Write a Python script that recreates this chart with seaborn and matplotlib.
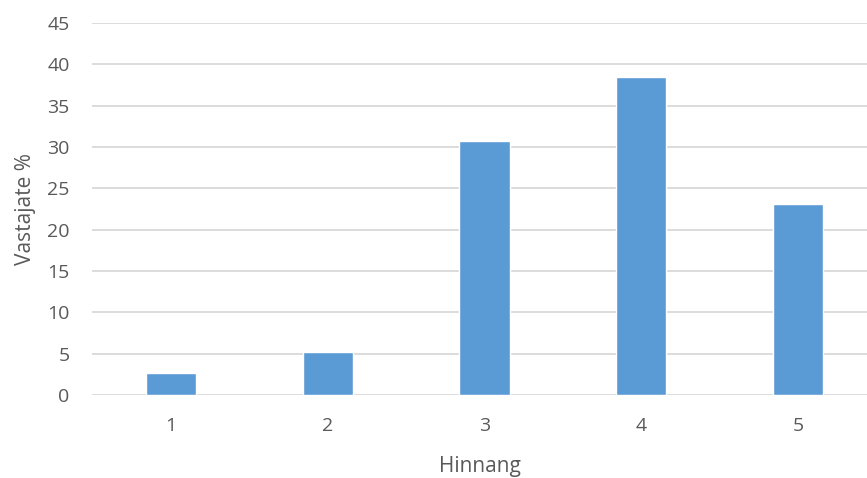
import matplotlib
matplotlib.use("Agg")
import matplotlib.pyplot as plt
import pandas as pd
import seaborn as sns

CATEGORIES = ["1", "2", "3", "4", "5"]
PERCENTS = [2.64, 5.13, 30.77, 38.46, 23.08]
Y_TICKS = [0, 5, 10, 15, 20, 25, 30, 35, 40, 45]

BAR_COLOR = "#5B9BD5"
GRID_COLOR = "#D9D9D9"
TEXT_COLOR = "#595959"


def main() -> None:
    sns.set_theme(style="white")
    plt.rcParams["font.family"] = ["Open Sans", "DejaVu Sans"]

    df = pd.DataFrame({"Hinnang": CATEGORIES, "Vastajate %": PERCENTS})

    fig = plt.figure(figsize=(8.67, 4.78), dpi=100)
    ax = fig.add_axes([0.106, 0.174, 0.894, 0.778])
    sns.barplot(data=df, x="Hinnang", y="Vastajate %", order=CATEGORIES,
                color=BAR_COLOR, saturation=1, width=0.32, ax=ax, zorder=3)

    ax.set_ylim(0, 45)
    ax.set_yticks(Y_TICKS)
    ax.set_xlim(-0.504, 4.44)
    ax.yaxis.grid(True, color=GRID_COLOR, linewidth=1.3, zorder=0)
    ax.set_axisbelow(True)
    for s in ax.spines.values():
        s.set_visible(False)
    ax.tick_params(axis="both", length=0, labelsize=14, colors=TEXT_COLOR)
    ax.tick_params(axis="x", pad=16)
    ax.tick_params(axis="y", pad=16)
    ax.set_xlabel("Hinnang", fontsize=15, color=TEXT_COLOR, labelpad=15)
    ax.set_ylabel("Vastajate %", fontsize=15, color=TEXT_COLOR, labelpad=8)

    fig.savefig("out.png", dpi=100)
    plt.close(fig)


if __name__ == "__main__":
    main()
